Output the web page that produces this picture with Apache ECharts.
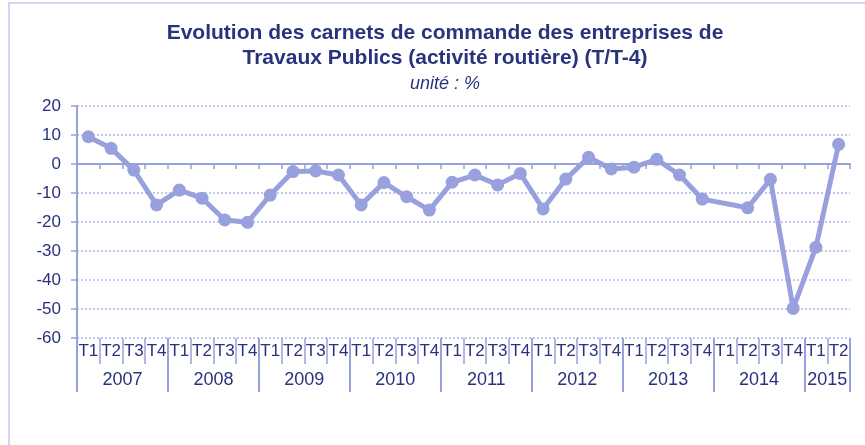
<!DOCTYPE html>
<html>
<head>
<meta charset="utf-8">
<script src="https://cdn.jsdelivr.net/npm/echarts@6/dist/echarts.min.js"></script>
<style>
  html, body { margin: 0; padding: 0; background: #fff; }
  #chart { width: 865px; height: 445px; }
</style>
</head>
<body>
<div id="chart"></div>
<script>
// données
var quarters = [];
var years = ['2007', '2008', '2009', '2010', '2011', '2012', '2013', '2014', '2015'];
var yearSpans = [4, 4, 4, 4, 4, 4, 4, 4, 2];
var carnets = [
    9.4, 5.4, -2.1, -14.1,
    -9, -11.8, -19.3, -20.1,
    -10.7, -2.6, -2.4, -3.8,
    -14.1, -6.4, -11.3, -15.9,
    -6.3, -3.8, -7.2, -3.3,
    -15.5, -5.2, 2.3, -1.7,
    -1.1, 1.6, -3.8, -12.1,
    null, -15.1, -5.3, -49.8,
    -28.7, 6.8
];
var yTicks = { min: -60, max: 20, step: 10 };

var navy = '#29327c';
var lavande = '#98a0de';
var grille = '#c2c6f0';

// T1..T4 pour chaque année, et bornes / milieux des années
var yearBounds = [0], yearMids = [], labelAt = {};
for (var i = 0; i < years.length; i++) {
    for (var q = 1; q <= yearSpans[i]; q++) quarters.push('T' + q);
    var start = yearBounds[yearBounds.length - 1];
    var mid = start + yearSpans[i] / 2;
    yearMids.push(mid);
    labelAt[mid] = years[i];
    yearBounds.push(start + yearSpans[i]);
}

var myChart = echarts.init(document.getElementById('chart'));

var option = {
    animation: false,
    backgroundColor: '#fff',
    title: {
        text: 'Evolution des carnets de commande des entreprises de\nTravaux Publics (activité routière) (T/T-4)',
        subtext: 'unité : %',
        left: 440,
        top: 16,
        textAlign: 'center',
        itemGap: 3,
        textStyle: { fontFamily: 'Arial', fontSize: 21, fontWeight: 'bold', color: navy, lineHeight: 25 },
        subtextStyle: { fontFamily: 'Arial', fontSize: 18, fontStyle: 'italic', color: navy, lineHeight: 20 }
    },
    graphic: [{
        type: 'rect',
        silent: true,
        shape: { x: 9, y: 3, width: 1000, height: 600 },
        style: { fill: 'none', stroke: '#d2d6f4', lineWidth: 2 }
    }],
    grid: { left: 77, right: 15, top: 106, bottom: 107, containLabel: false },
    xAxis: [
        {
            // axe au zéro, petites graduations
            type: 'category',
            data: quarters,
            position: 'bottom',
            axisLine: { onZero: true, lineStyle: { color: lavande, width: 2 } },
            axisTick: { show: true, length: 5, interval: 0, lineStyle: { color: lavande, width: 1.5 } },
            axisLabel: { show: false },
            splitLine: { show: false }
        },
        {
            // trimestres en bas
            type: 'category',
            data: quarters,
            position: 'bottom',
            axisLine: { show: false, onZero: false },
            axisTick: { show: true, length: 26, interval: 0, lineStyle: { color: lavande, width: 1.5 } },
            axisLabel: { interval: 0, margin: 5, fontFamily: 'Arial', fontSize: 17, color: navy },
            splitLine: { show: false }
        },
        {
            // années
            type: 'value',
            min: 0,
            max: quarters.length,
            position: 'bottom',
            axisLine: { show: false, onZero: false },
            axisTick: { show: true, length: 54, customValues: yearBounds, lineStyle: { color: lavande, width: 2 } },
            axisLabel: {
                margin: 33,
                customValues: yearMids,
                fontFamily: 'Arial', fontSize: 18, color: navy,
                formatter: function (v) { return labelAt[v] || ''; }
            },
            splitLine: { show: false }
        }
    ],
    yAxis: {
        type: 'value',
        min: yTicks.min,
        max: yTicks.max,
        interval: yTicks.step,
        axisLine: { show: true, lineStyle: { color: lavande, width: 2 } },
        axisTick: { show: true, length: 6, lineStyle: { color: lavande, width: 1.5 } },
        axisLabel: { margin: 16, fontFamily: 'Arial', fontSize: 17, color: navy },
        splitLine: { show: true, lineStyle: { color: grille, type: [2, 2], width: 2 } }
    },
    series: [{
        name: 'carnets',
        type: 'line',
        xAxisIndex: 0,
        data: carnets,
        connectNulls: true,
        symbol: 'circle',
        symbolSize: 13,
        lineStyle: { color: lavande, width: 5 },
        itemStyle: { color: lavande },
        z: 5
    }]
};

myChart.setOption(option);
</script>
</body>
</html>
